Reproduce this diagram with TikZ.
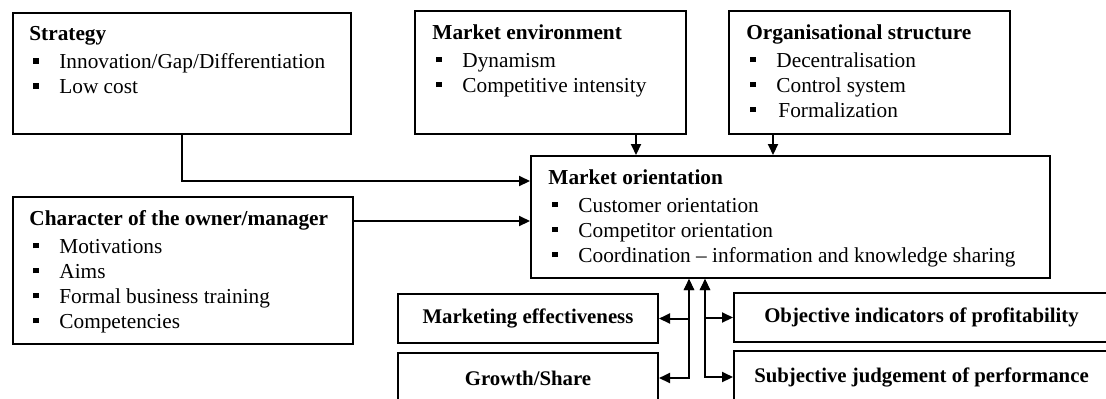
\documentclass[tikz,border=0pt]{standalone}
\usepackage{fontspec}
\setmainfont{Liberation Serif}
\usetikzlibrary{arrows.meta}

% square bullet in front of a list item
\newcommand{\bl}{\hspace*{2pt}\rule[2.5pt]{2.7pt}{2.7pt}\hspace*{10.3pt}}

\begin{document}
\begin{tikzpicture}[x=0.5pt,y=-0.5pt,
    box/.style={draw,line width=1pt,rectangle,inner sep=0pt,anchor=north west},
    txt/.style={align=left,inner sep=0pt,anchor=north west,font=\fontsize{10.65}{12.5}\selectfont},
    res/.style={box,font=\fontsize{10.4}{12.5}\selectfont\bfseries},
    arr/.style={line width=1pt,-{Triangle[length=5.5pt,width=5pt]}},
    darr/.style={line width=1pt,{Triangle[length=5.5pt,width=5pt]}-{Triangle[length=5.5pt,width=5pt]}}]

    \useasboundingbox (0,0) rectangle (1106,398);
    \clip (0,0) rectangle (1106,398);

    % factors
    \node[box,minimum width=169pt,minimum height=60.5pt] (strat) at (12,12) {};
    \node[txt] (strat-t) at (29,26) {\textbf{Strategy}\\[1.5pt]
        \bl Innovation/Gap/Differentiation\\
        \bl Low cost};

    \node[box,minimum width=135.5pt,minimum height=61.5pt] (menv) at (414,10) {};
    \node[txt] (menv-t) at (432,24) {\textbf{Market environment}\\[1.5pt]
        \bl Dynamism\\
        \bl Competitive intensity};

    \node[box,minimum width=140.5pt,minimum height=61.5pt] (org) at (728,10) {};
    \node[txt] (org-t) at (746,24) {\textbf{Organisational structure}\\[1.5pt]
        \bl Decentralisation\\
        \bl Control system\\
        \bl\hspace*{1pt}Formalization};

    \node[box,minimum width=170pt,minimum height=73.5pt] (char) at (12,196) {};
    \node[txt] (char-t) at (29,210) {\textbf{Character of the owner/manager}\\[1.5pt]
        \bl Motivations\\
        \bl Aims\\
        \bl Formal business training\\
        \bl Competencies};

    % market orientation
    \node[box,minimum width=259.5pt,minimum height=61pt] (mo) at (530,155) {};
    \node[txt] (mo-t) at (548,169) {\textbf{Market orientation}\\[1.5pt]
        \bl Customer orientation\\
        \bl Competitor orientation\\
        \bl Coordination -- information and knowledge sharing};

    % performance
    \node[res,minimum width=130pt,minimum height=24.5pt] (meff) at (397,293) {Marketing effectiveness};
    \node[res,minimum width=130pt,minimum height=25pt] (grow) at (397,352) {Growth/Share};
    \node[res,minimum width=187.5pt,minimum height=24.5pt] (obj) at (733,292) {Objective indicators of profitability};
    \node[res,minimum width=187.5pt,minimum height=26pt] (subj) at (733,350) {Subjective judgement of performance};

    % links into market orientation
    \draw[arr] (strat.south) |- ([yshift=-13pt]mo.north west);
    \draw[arr] ([yshift=-12.5pt]char.north east) coordinate (c1) -- (c1 -| mo.west);
    \draw[arr] ([xshift=42.75pt]menv.south) coordinate (m1) -- (m1 |- mo.north);
    \draw[arr] ([xshift=-48.25pt]org.south) coordinate (o1) -- (o1 |- mo.north);

    % links to performance
    \coordinate (ml) at ([xshift=-50.75pt]mo.south);
    \coordinate (mr) at ([xshift=-42.75pt]mo.south);
    \draw[darr] (meff.east) -| (ml);
    \draw[darr] (grow.east) -| (ml);
    \draw[darr] (obj.west) -| (mr);
    \draw[darr] (subj.west) -| (mr);
\end{tikzpicture}
\end{document}
